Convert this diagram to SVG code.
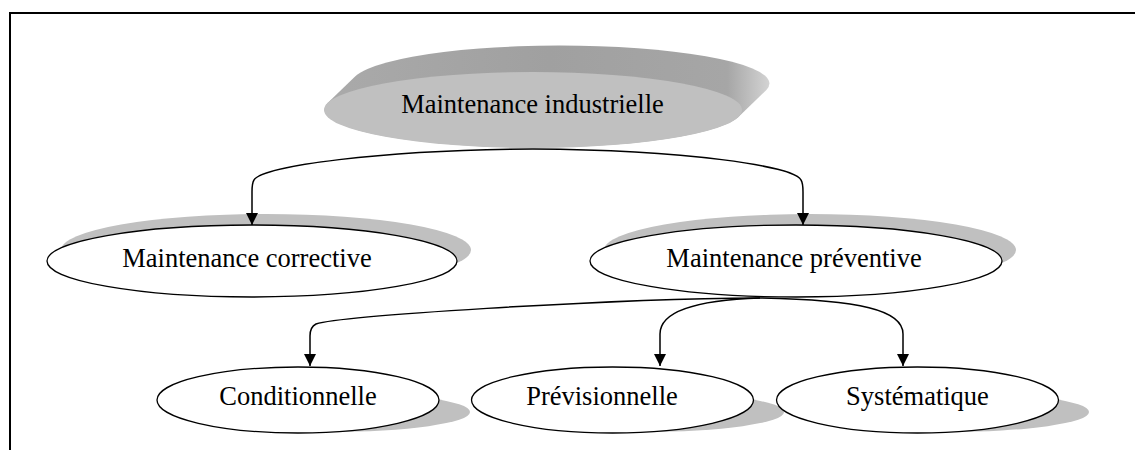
<svg xmlns="http://www.w3.org/2000/svg" width="1135" height="450" viewBox="0 0 1135 450">
<style>
.lbl{font-family:"Liberation Serif","Times New Roman",serif;font-size:26.5px;fill:#000;text-anchor:middle}
.node{fill:#fff;stroke:#000;stroke-width:1.3}
.shadow{fill:#c0c0c0}
.conn{fill:none;stroke:#000;stroke-width:1.5}
</style>
<defs>
<linearGradient id="ext" gradientUnits="userSpaceOnUse" x1="325" y1="0" x2="772" y2="0">
<stop offset="0" stop-color="#aaaaaa"/>
<stop offset="0.5" stop-color="#a0a0a0"/>
<stop offset="0.9" stop-color="#a6a6a6"/>
<stop offset="1" stop-color="#d6d6d6"/>
</linearGradient>
<marker id="arr" viewBox="0 0 12 12" refX="12" refY="6" markerWidth="12" markerHeight="12" markerUnits="userSpaceOnUse" orient="auto">
<path d="M0,0 L12,6 L0,12 Z" fill="#000"/>
</marker>
</defs>
<rect width="1135" height="450" fill="#fff"/>
<path d="M10,450 L10,13 L1135,13" fill="none" stroke="#000" stroke-width="2"/>

<g id="node-industrielle">
<path d="M327.6,103 L355.6,76 A209,38 0 0 1 766.4,90 L738.4,117 A209,38 0 0 1 327.6,103 Z" fill="url(#ext)"/>
<ellipse cx="533" cy="110" rx="209" ry="38" fill="#c0c0c0"/>
<text class="lbl" x="532.5" y="113">Maintenance industrielle</text>
</g>

<g id="node-corrective">
<ellipse class="shadow" cx="266" cy="250" rx="205" ry="36"/>
<ellipse class="node" cx="252" cy="261" rx="205" ry="36"/>
<text class="lbl" x="247" y="267">Maintenance corrective</text>
</g>

<g id="node-preventive">
<ellipse class="shadow" cx="810" cy="250" rx="206" ry="36"/>
<ellipse class="node" cx="796" cy="261" rx="206" ry="36"/>
<text class="lbl" x="794" y="267">Maintenance préventive</text>
</g>

<g id="node-conditionnelle">
<ellipse class="shadow" cx="329" cy="412" rx="141" ry="20"/>
<ellipse class="node" cx="298" cy="400" rx="141" ry="33"/>
<text class="lbl" x="298" y="405">Conditionnelle</text>
</g>

<g id="node-previsionnelle">
<ellipse class="shadow" cx="643" cy="412" rx="141" ry="20"/>
<ellipse class="node" cx="612.5" cy="400" rx="141" ry="33"/>
<text class="lbl" x="602" y="405">Prévisionnelle</text>
</g>

<g id="node-systematique">
<ellipse class="shadow" cx="948" cy="412" rx="141" ry="20"/>
<ellipse class="node" cx="917.5" cy="400" rx="141" ry="33"/>
<text class="lbl" x="917.5" y="405">Systématique</text>
</g>

<g id="connectors">
<path class="conn" marker-end="url(#arr)" d="M533,149 C380,150 262,166 254,180 Q252,183 252,192 L252,225"/>
<path class="conn" marker-end="url(#arr)" d="M533,149 C686,150 794,166 801,180 Q803,183 803,192 L803,225"/>
<path class="conn" marker-end="url(#arr)" d="M760,298 C600,299 340,316 316,324 Q310,327 310,336 L310,366"/>
<path class="conn" marker-end="url(#arr)" d="M760,298 C700,300 660,310 660,334 L660,366"/>
<path class="conn" marker-end="url(#arr)" d="M760,298 C860,300 903,310 903,334 L903,366"/>
</g>
</svg>
